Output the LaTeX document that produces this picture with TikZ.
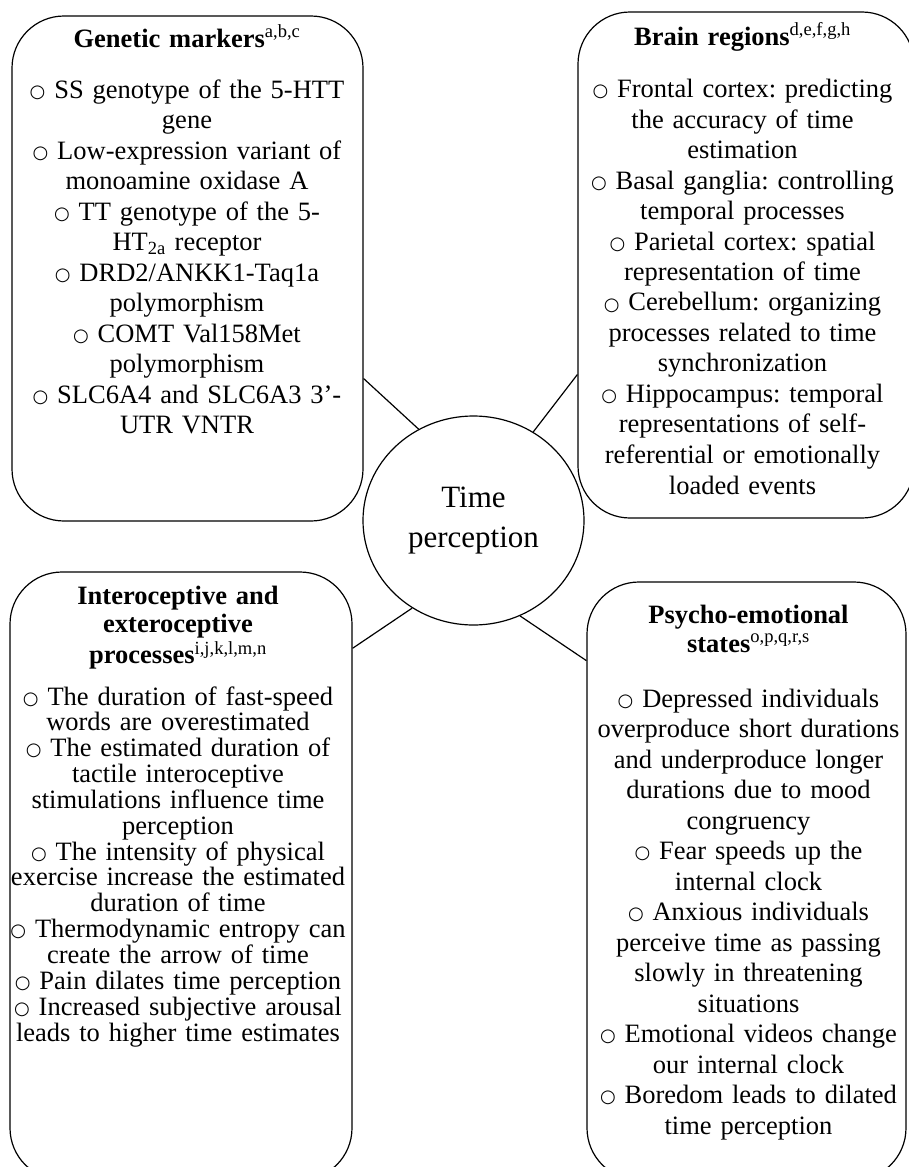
\documentclass[tikz,border=0pt]{standalone}
\usepackage{fontspec}
\setmainfont{Liberation Serif}
\newfontfamily\symfont{DejaVu Sans}
\usetikzlibrary{positioning, shapes.geometric}
\tikzstyle{every picture} = [x=1pt, y=-1pt, line width=1.2pt]
\tikzstyle{bubble} = [draw, rectangle, rounded corners=52pt, inner sep=0pt]
\tikzstyle{bubble text} = [align=center, inner sep=0pt, anchor=base, text width=350pt, font=\fontsize{26.5}{30.5}\selectfont]
\tikzstyle{hub} = [draw, ellipse, inner sep=0pt, minimum width=221pt, minimum height=209pt, align=center, font=\fontsize{31}{40}\selectfont]
\newcommand{\obul}{\raisebox{0.8pt}{\symfont\fontsize{18}{0}\selectfont ○}\ }
\frenchspacing

\begin{document}
\begin{tikzpicture}
            \useasboundingbox (0,0) rectangle (909,1167);
            \clip (0,0) rectangle (909,1167);

            \node (node 1) [hub] at (473.5,520.5) {Time\\perception};
            \node (node 2) [bubble, minimum width=351pt, minimum height=505pt] at (187.5,268.5) {};
            \node (node 3) [bubble, minimum width=336pt, minimum height=506pt] at (746,265) {};
            \node (node 4) [bubble, minimum width=342pt, minimum height=608pt] at (181,876) {};
            \node (node 5) [bubble, minimum width=319pt, minimum height=598pt] at (746.5,881) {};

            \node (text 2) [bubble text] at (187,47) {\textbf{Genetic markers}\textsuperscript{a,b,c}\\[20.5pt]
                \obul SS genotype of the 5-HTT\\ gene\\
                \obul Low-expression variant of\\ monoamine oxidase A\\
                \obul TT genotype of the 5-\\ HT\textsubscript{2a} receptor\\
                \obul DRD2/ANKK1-Taq1a\\ polymorphism\\
                \obul COMT Val158Met\\ polymorphism\\
                \obul SLC6A4 and SLC6A3 3’-\\ UTR VNTR};
            \node (text 3) [bubble text] at (742.5,45) {\textbf{Brain regions}\textsuperscript{d,e,f,g,h}\\[22pt]
                \obul Frontal cortex: predicting\\ the accuracy of time\\ estimation\\
                \obul Basal ganglia: controlling\\ temporal processes\\
                \obul Parietal cortex: spatial\\ representation of time\\
                \obul Cerebellum: organizing\\ processes related to time\\ synchronization\\
                \obul Hippocampus: temporal\\ representations of self-\\ referential or emotionally\\ loaded events};
            \node (text 4) [bubble text, font=\fontsize{26.5}{25.85}\selectfont] at (178,604) {\textbf{Interoceptive and}\\[2.8pt]
                \textbf{exteroceptive}\\[2.8pt]
                \textbf{processes}\textsuperscript{i,j,k,l,m,n}\\[15.2pt]
                \obul The duration of fast-speed\\ words are overestimated\\
                \obul The estimated duration of\\ tactile interoceptive\\ stimulations influence time\\ perception\\
                \obul The intensity of physical\\ exercise increase the estimated\\ duration of time\\
                \obul Thermodynamic entropy can\\ create the arrow of time\\
                \obul Pain dilates time perception\\
                \obul Increased subjective arousal\\ leads to higher time estimates};
            \node (text 5) [bubble text] at (748.5,623) {\textbf{Psycho-emotional}\\[-1.5pt]
                \textbf{states}\textsuperscript{o,p,q,r,s}\\[24.6pt]
                \obul Depressed individuals\\ overproduce short durations\\ and underproduce longer\\ durations due to mood\\ congruency\\
                \obul Fear speeds up the\\ internal clock\\
                \obul Anxious individuals\\ perceive time as passing\\ slowly in threatening\\ situations\\
                \obul Emotional videos change\\ our internal clock\\
                \obul Boredom leads to dilated\\ time perception};

            \path (node 2.328.75) edge (node 1.121)
                  (node 3.213.9) edge (node 1.56.1)
                  (node 4.53.5) edge (node 1.235.3)
                  (node 5.126.7) edge (node 1.296.2);
        \end{tikzpicture}
\end{document}
